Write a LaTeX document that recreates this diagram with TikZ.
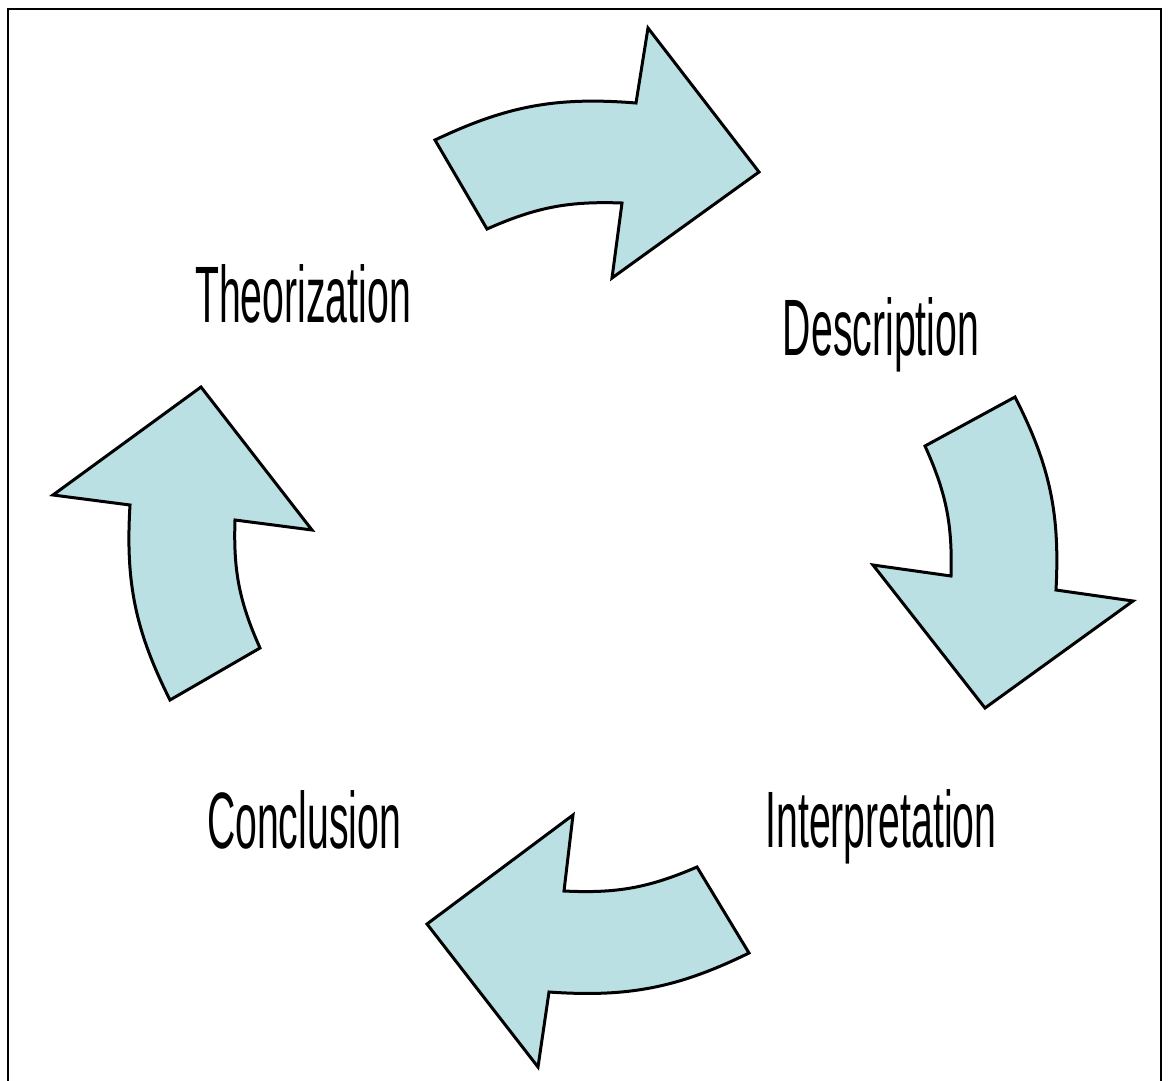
\documentclass[tikz,border=0pt]{standalone}
\usepackage{fontspec}
\newfontfamily\cyclefont[FakeStretch=0.49]{Liberation Sans}
\definecolor{arrowfill}{RGB}{187,224,227}

\begin{document}
\begin{tikzpicture}[
    x=1pt, y=-1pt,
    phase/.style={anchor=base, inner sep=0pt, font=\cyclefont\fontsize{80}{96}\selectfont},
    bigarrow/.style={draw=black, fill=arrowfill, line width=3pt}
]
\useasboundingbox (0,0) rectangle (1168,1080);
\clip (0,0) rectangle (1168,1080);

% Marco
\draw[line width=2pt] (8,9) rectangle (1161,1100);

% Flecha superior
\draw[bigarrow] (435,140) to[bend left=15] (636,103) -- (648,28) -- (759,172)
    -- (612,278) -- (622,203) to[bend right=13] (487,229) -- cycle;

% Flecha derecha
\draw[bigarrow] (1015,397) to[bend left=15] (1056,590) -- (1133,601) -- (985,708)
    -- (873,565) -- (951,576) to[bend right=13] (925,446) -- cycle;

% Flecha inferior
\draw[bigarrow] (749,953) to[bend left=15] (549,992) -- (538,1067) -- (427,924)
    -- (573,815) -- (564,891) to[bend right=13] (697,867) -- cycle;

% Flecha izquierda
\draw[bigarrow] (170,700) to[bend left=15] (130,505) -- (53,495) -- (201,387)
    -- (312,530) -- (235,520) to[bend right=13] (260,648) -- cycle;

% Etapas
\node[phase] (theo)   at (303,322) {Theorization};
\node[phase] (desc)   at (881,355) {Description};
\node[phase] (interp) at (881,847) {Interpretation};
\node[phase] (concl)  at (304,848) {Conclusion};

\end{tikzpicture}
\end{document}
